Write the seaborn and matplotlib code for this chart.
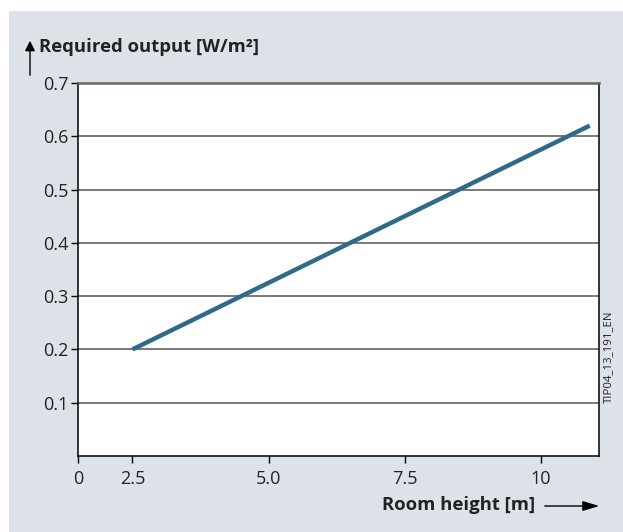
import matplotlib
matplotlib.use("Agg")
import matplotlib.pyplot as plt
import seaborn as sns
import pandas as pd
from matplotlib.patches import Rectangle, FancyArrowPatch

# data
room_height = [2.5, 10.9]
required_output = [0.2, 0.62]

x_ticks = [1.5, 2.5, 5.0, 7.5, 10.0]
x_tick_labels = ["0", "2.5", "5.0", "7.5", "10"]
y_ticks = [0.1, 0.2, 0.3, 0.4, 0.5, 0.6, 0.7]
y_tick_labels = ["0.1", "0.2", "0.3", "0.4", "0.5", "0.6", "0.7"]

BG = "#dde1e8"
LINE = "#2f6a8c"

sns.set_theme(style="white")
plt.rcParams["font.family"] = ["Open Sans", "DejaVu Sans"]

W, H = 623, 532
fig = plt.figure(figsize=(W / 100, H / 100), dpi=100)
fig.patch.set_facecolor("white")
fig.patches.append(Rectangle((9 / W, 0), 1, (H - 11) / H, transform=fig.transFigure,
                             facecolor=BG, edgecolor="none", zorder=-10))

ax = fig.add_axes([78 / W, (H - 456) / H, (599 - 78) / W, (456 - 83) / H])
ax.set_facecolor("white")

df = pd.DataFrame({"h": room_height, "p": required_output})
sns.lineplot(data=df, x="h", y="p", ax=ax, color=LINE, linewidth=3.2,
             solid_capstyle="butt", zorder=3)

ax.set_xlim(1.5, 11.07)
ax.set_ylim(0, 0.7)
ax.set_xticks(x_ticks)
ax.set_xticklabels(x_tick_labels)
ax.set_yticks(y_ticks)
ax.set_yticklabels(y_tick_labels)
ax.set_xlabel("")
ax.set_ylabel("")

for v in y_ticks[:-1]:
    ax.axhline(v, color="#555555", linewidth=1.1, zorder=1)

ax.tick_params(axis="both", direction="out", length=5, width=1, color="black",
               labelsize=13, labelcolor="#222222", pad=2, bottom=True, left=True)
ax.tick_params(axis="x", pad=5)

for side in ["left", "bottom", "right"]:
    ax.spines[side].set_visible(True)
    ax.spines[side].set_color("black")
    ax.spines[side].set_linewidth(1.1)
ax.spines["top"].set_color("#666666")
ax.spines["top"].set_linewidth(1.8)

# axis titles with arrows
fig.text(39 / W, 1 - 47 / H, "Required output [W/m²]", fontsize=13.3,
         fontweight="bold", color="#222222", ha="left", va="center")
fig.add_artist(FancyArrowPatch(
    (30 / W, 1 - 78 / H), (30 / W, 1 - 38 / H), transform=fig.transFigure,
    arrowstyle="-|>,head_length=6,head_width=3", color="black", linewidth=1))

fig.text(535 / W, 1 - 505 / H, "Room height [m]", fontsize=13.3,
         fontweight="bold", color="#222222", ha="right", va="center")
fig.add_artist(FancyArrowPatch(
    (542 / W, 1 - 506 / H), (602 / W, 1 - 506 / H), transform=fig.transFigure,
    arrowstyle="-|>,head_length=10,head_width=3", color="black", linewidth=1))

fig.text(609 / W, 1 - 357 / H, "TIP04_13_191_EN", fontsize=8.2, rotation=90,
         color="#222222", ha="center", va="center")

fig.savefig("out.png", dpi=100, facecolor=fig.get_facecolor())
